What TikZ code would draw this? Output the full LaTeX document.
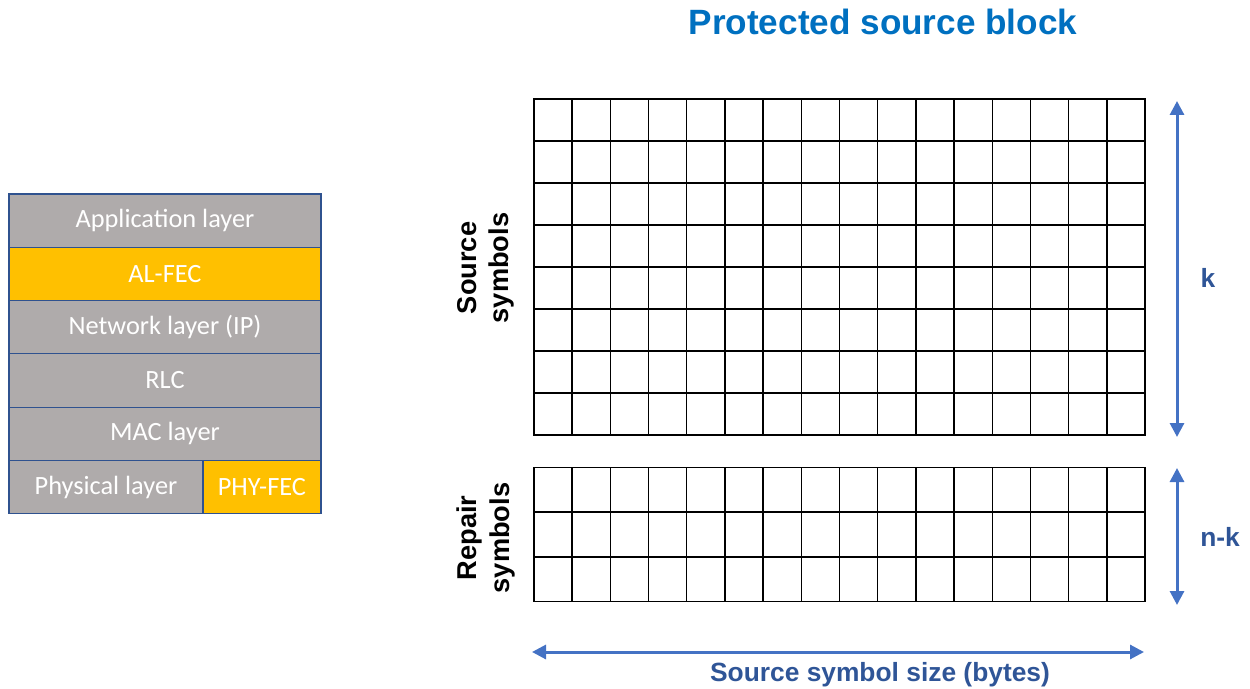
\documentclass[tikz,border=0pt]{standalone}
\usepackage{fontspec}
\setmainfont{Liberation Sans}
\newfontfamily\layerfont{Carlito}
\usetikzlibrary{arrows.meta, positioning, calc}
\definecolor{layergray}{RGB}{175,171,171}
\definecolor{fecorange}{RGB}{255,192,0}
\definecolor{edgeblue}{RGB}{47,82,143}
\definecolor{titleblue}{RGB}{0,112,192}
\definecolor{labelblue}{RGB}{47,85,151}
\definecolor{arrowblue}{RGB}{68,114,196}

\begin{document}
\begin{tikzpicture}[
    x=0.02cm, y=-0.02cm,
    layer/.style={rectangle, draw=edgeblue, fill=layergray, line width=0.7pt,
                  minimum width=6.24cm, minimum height=1.066cm, inner sep=0pt, outer sep=0pt,
                  text=white, font=\layerfont\fontsize{15}{18}\selectfont},
    fec/.style={layer, fill=fecorange},
    block/.style={rectangle, draw=black, line width=0.8pt, inner sep=0pt, outer sep=0pt,
                  minimum width=12.22cm},
    cellline/.style={black, line width=0.8pt},
    dim/.style={{Triangle[length=0.28cm, width=0.28cm]}-{Triangle[length=0.28cm, width=0.28cm]},
                line width=1.7pt, arrowblue},
    lbl/.style={text=labelblue, font=\bfseries\fontsize{15}{18}\selectfont},
    side/.style={font=\bfseries\fontsize{15.5}{18.5}\selectfont, align=center, rotate=90},
]
    \useasboundingbox (0,0) rectangle (1250,689);

    % protocol stack
    \node[layer, anchor=north west] (app) at (9,194) {Application layer};
    \node[fec, below=0pt of app] (alfec) {AL-FEC};
    \node[layer, below=0pt of alfec] (net) {Network layer (IP)};
    \node[layer, below=0pt of net] (rlc) {RLC};
    \node[layer, below=0pt of rlc] (mac) {MAC layer};
    \node[layer, minimum width=3.88cm, anchor=north west] (phy) at (mac.south west) {Physical layer};
    \node[fec, minimum width=2.36cm, anchor=north west] (phyfec) at (phy.north east) {PHY-FEC};

    % source and repair blocks
    \node[block, minimum height=6.72cm, anchor=north west] (src) at (534,99) {};
    \node[block, minimum height=2.68cm, anchor=north west] (rep) at (534,467.5) {};
    \foreach \i in {1,...,15} {
        \draw[cellline] ($(src.north west)+(\i*38.19,0)$) -- ($(src.south west)+(\i*38.19,0)$);
        \draw[cellline] ($(rep.north west)+(\i*38.19,0)$) -- ($(rep.south west)+(\i*38.19,0)$);
    }
    \foreach \j in {1,...,7}
        \draw[cellline] ($(src.north west)+(0,\j*42)$) -- ($(src.north east)+(0,\j*42)$);
    \foreach \j in {1,2}
        \draw[cellline] ($(rep.north west)+(0,\j*44.67)$) -- ($(rep.north east)+(0,\j*44.67)$);

    \node[text=titleblue, font=\bfseries\fontsize{20}{24}\selectfont] (title) at (883,22) {Protected source block};
    \node[side] (srclbl) at (486,268) {Source\\symbols};
    \node[side] (replbl) at (486,538) {Repair\\symbols};

    % dimension arrows
    \coordinate (ktop) at (1177,101);
    \coordinate (kbot) at (1177,437);
    \coordinate (nktop) at (1177,468);
    \coordinate (nkbot) at (1177,605);
    \coordinate (wleft) at (532,652);
    \coordinate (wright) at (1144,652);
    \draw[dim] (ktop) -- (kbot);
    \draw[dim] (nktop) -- (nkbot);
    \draw[dim] (wleft) -- (wright);
    \node[lbl] (klbl) at (1208,278) {k};
    \node[lbl] (nklbl) at (1220,537) {n-k};
    \node[lbl] (wlbl) at (880,675) {Source symbol size (bytes)};
\end{tikzpicture}
\end{document}
